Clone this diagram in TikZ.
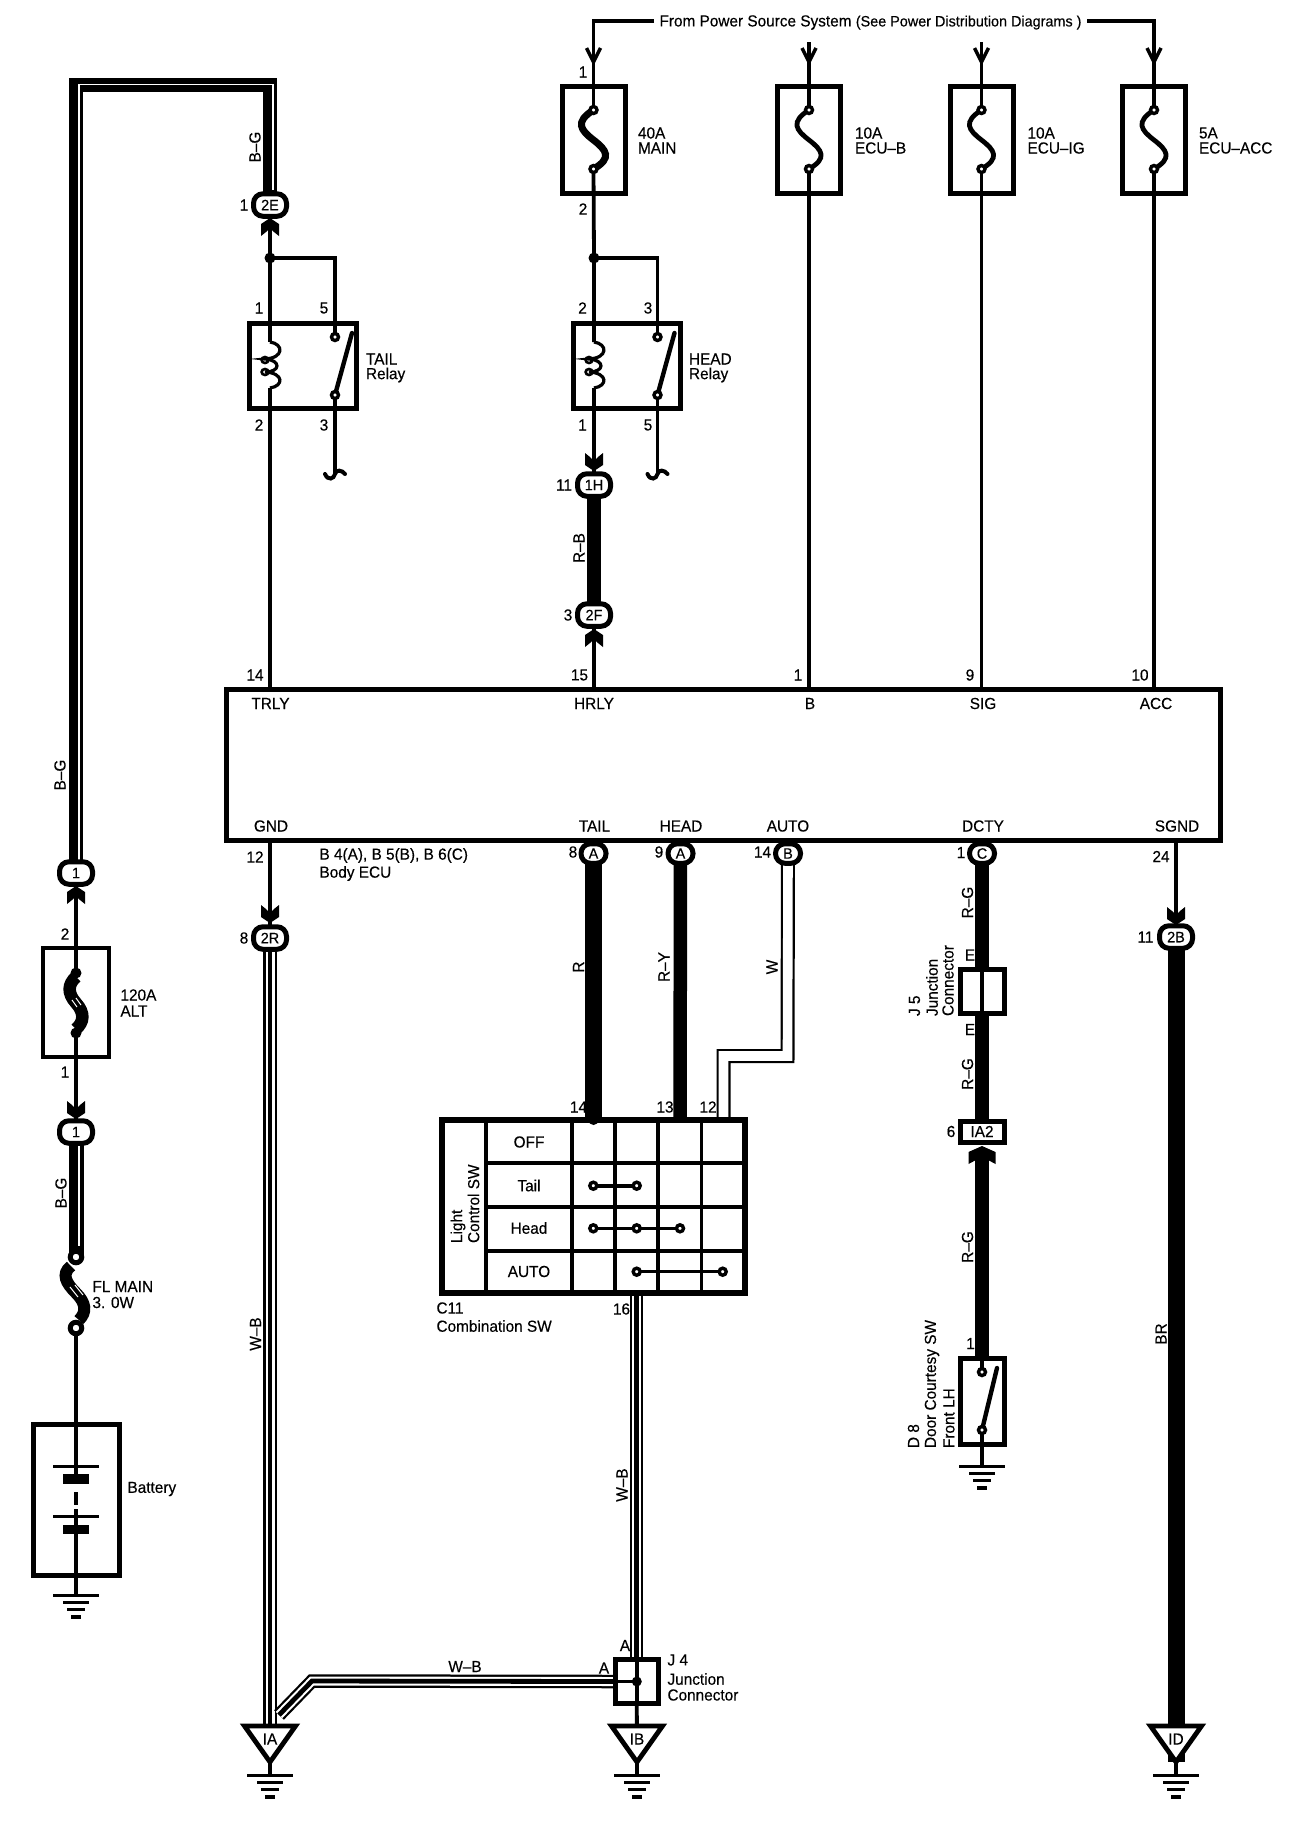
\documentclass[tikz,border=0pt]{standalone}
\usepackage{fontspec}
\setmainfont[FakeStretch=0.96,FakeBold=0.3]{Liberation Sans}
\usetikzlibrary{shapes.geometric,backgrounds,calc}
\tikzset{
  lab/.style={inner sep=0pt,outer sep=0pt,font=\fontsize{16}{18}\selectfont},
  boxn/.style={draw,line width=5,inner sep=0pt,outer sep=0pt},
  thinbox/.style={draw,line width=4,inner sep=0pt,outer sep=0pt},
  term/.style={circle,draw,fill=white,line width=3.4,minimum size=7,inner sep=0pt,outer sep=0pt},
  conn/.style={rectangle,rounded corners=9.5pt,draw,fill=white,line width=5,inner sep=0pt,outer sep=0pt,minimum width=33,minimum height=22.5,font=\fontsize{15}{15}\selectfont},
  connr/.style={conn,minimum width=25,minimum height=19.5},
  wire/.style={line width=3.8},
  grid/.style={line width=3.6},
}
\newcommand\lbl[4][]{\node[lab,#1] (#2) at (#3) {#4};}
\newcommand\chev[4]{\fill[shift={(#1,#2)},yscale=#3,xscale=#4] (-9,18)--(-9,6)--(0,0)--(9,6)--(9,18)--(4,14)--(0,10)--(-4,14)--cycle;}
\newcommand\barb[1]{\draw[line width=3.4] (#1-7,48)--(#1,62)--(#1+7,48);}
\newcommand\mygnd[2]{%
  \draw[line width=3] (#1-23,#2)--(#1+23,#2);
  \draw[line width=3.2] (#1-13,#2+7.5)--(#1+13,#2+7.5);
  \draw[line width=3.2] (#1-9,#2+14.5)--(#1+9,#2+14.5);
  \draw[line width=3.2] (#1-5,#2+22)--(#1+5,#2+22);}
\newcommand\stripe[1]{%
  \draw[line width=13.5] #1; \draw[white,line width=9] #1; \draw[line width=4.8] #1;}
\newcommand\fusebox[3]{% name, x, fuse line width
  \node[boxn,minimum width=63,minimum height=107] (#1) at (#2,140) {};
  \begin{scope}[on background layer]
  \draw[line width=#3,line cap=round] (#2,110) .. controls (#2-19,122) and (#2-13,130) .. (#2,140)
     .. controls (#2+13,150) and (#2+19,158) .. (#2,169);
  \end{scope}
  \node[term] (#1t) at (#2,110) {};
  \node[term] (#1b) at (#2,169) {};
}
\newcommand\relay[3]{% name, coil x, contact x
  \node[boxn,minimum width=107,minimum height=85] (#1) at (#2+33,366) {};
  \coordinate (#1c) at (#2,342);
  \coordinate (#1d) at (#2,388);
  \draw[line width=3.2] (#1c) .. controls (#2+14,344) and (#2+14,358) .. (#2-5,359)
     .. controls (#2+11,360) and (#2+11,372) .. (#2-5,372)
     .. controls (#2+14,373) and (#2+14,386) .. (#1d);
  \draw[line width=2.6] (#2-5,360) ellipse (3.4 and 3);
  \draw[line width=2.6] (#2-5,372) ellipse (3.4 and 3);
  \draw[line width=4.4,line cap=round] (#3,395)--(#3+17,333);
  \node[term] (#1a) at (#3,337) {};
  \node[term] (#1z) at (#3,395) {};
  \coordinate (#1q) at (#3,474);
  \draw[line width=4,line cap=round] (#3-10,474) .. controls (#3-7,481) and (#3-1,479) .. (#1q)
     .. controls (#3+1,469) and (#3+7,470) .. (#3+10,474);
  \begin{scope}[on background layer]
    \draw[wire] (#1z)--(#1q);
  \end{scope}
}
\newcommand\gtri[3]{% name, x, text
  \draw[line width=4.8,fill=white] (#2-25.5,1726)--(#2+25.5,1726)--(#2,1762)--cycle;
  \node[lab] (#1) at (#2,1739) {#3};
  \coordinate (#1tip) at (#2,1762);
  \coordinate (#1gnd) at (#2,1775);
  \mygnd{#2}{1775}
  \draw[wire] (#1tip)--(#1gnd);
}
\begin{document}
\begin{tikzpicture}[x=1pt,y=-1pt]
\useasboundingbox (0,0) rectangle (1312,1826);

% ---------- top fuses ----------
\fusebox{fa}{593.5}{7}
\fusebox{fb}{809}{4.8}
\fusebox{fc}{981.5}{4.8}
\fusebox{fd}{1154}{4.8}
\lbl{pw}{870.5,22.5}{From Power Source System {\fontsize{15}{16}\selectfont (See Power Distribution Diagrams )}}
\coordinate (ib) at (809,42);
\coordinate (ic) at (981.5,42);
\coordinate (pl) at (654,21);
\coordinate (pr) at (1087,21);
\coordinate (la) at (593.5,21);
\coordinate (ld) at (1154,21);
\begin{scope}[on background layer]
  \draw[wire] (pl)--(la)--(fat);
  \draw[wire] (pr)--(ld)--(fdt);
  \draw[wire] (ib)--(fbt);
  \draw[wire] (ic)--(fct);
\end{scope}
\barb{593.5}\barb{809}\barb{981.5}\barb{1154}
\lbl{n1}{583,72}{1}
\lbl{n2}{583,209}{2}
\lbl[anchor=west]{fa1}{638,133}{40A}\lbl[anchor=west]{fa2}{638,148}{MAIN}
\lbl[anchor=west]{fb1}{855,133}{10A}\lbl[anchor=west]{fb2}{855,148}{ECU--B}
\lbl[anchor=west]{fc1}{1027.5,133}{10A}\lbl[anchor=west]{fc2}{1027.5,148}{ECU--IG}
\lbl[anchor=west]{fd1}{1199,133}{5A}\lbl[anchor=west]{fd2}{1199,148}{ECU--ACC}

% ---------- relays ----------
\relay{rt}{270}{335}
\relay{rh}{594}{657.5}
\lbl[anchor=west]{rt1}{366,359}{TAIL}\lbl[anchor=west]{rt2}{366,375}{Relay}
\lbl[anchor=west]{rh1}{689,359}{HEAD}\lbl[anchor=west]{rh2}{689,375}{Relay}
\lbl{p1}{259,308}{1}\lbl{p2}{324,308}{5}\lbl{p3}{259,425}{2}\lbl{p4}{324,425}{3}
\lbl{p5}{582.5,308}{2}\lbl{p6}{648,308}{3}\lbl{p7}{582.5,425}{1}\lbl{p8}{648,425}{5}

% ---------- ECU ----------
\node[boxn,minimum width=994,minimum height=151] (ecu) at (723.5,764.5) {};
\lbl{e1}{270.5,703.5}{TRLY}\lbl{e2}{594,703.5}{HRLY}\lbl{e3}{810,703.5}{B}\lbl{e4}{983,703.5}{SIG}\lbl{e5}{1156,703.5}{ACC}
\lbl{e6}{271,826}{GND}\lbl{e7}{594.5,826}{TAIL}\lbl{e8}{681,826}{HEAD}\lbl{e9}{788,826}{AUTO}\lbl{e10}{983,826}{DCTY}\lbl{e11}{1177,826}{SGND}
\lbl{q1}{255,675}{14}\lbl{q2}{579.5,675}{15}\lbl{q3}{798,675}{1}\lbl{q4}{970,675}{9}\lbl{q5}{1140,675}{10}
\lbl{q6}{255,857}{12}\lbl{q7}{1161,856.5}{24}
\lbl[anchor=west]{bd1}{319.5,855.5}{B 4(A), B 5(B), B 6(C)}
\lbl[anchor=west]{bd2}{319.5,873.5}{Body ECU}

% ---------- connectors ----------
\node[conn] (c2E) at (270,205) {2E};
\node[conn] (c1H) at (594,485) {1H};
\node[conn] (c2F) at (594,615) {2F};
\node[conn] (c2R) at (270,938) {2R};
\node[conn] (c2B) at (1176,937) {2B};
\node[conn] (c1a) at (76,873) {1};
\node[conn] (c1b) at (76,1132) {1};
\node[connr] (cA1) at (593.5,853.5) {A};
\node[connr] (cA2) at (680.5,853.5) {A};
\node[connr] (cB) at (788,853.5) {B};
\node[connr] (cC) at (982,853.5) {C};
\chev{270}{218}{1}{1}
\chev{594}{471}{-1}{1}
\chev{594}{629}{1}{1}
\chev{270}{923}{-1}{1}
\chev{1176}{925}{-1}{1}
\chev{76}{886}{1}{1}
\chev{76}{1119}{-1}{1}
\lbl{k1}{244,205}{1}\lbl{k2}{564,485}{11}\lbl{k3}{568,615}{3}\lbl{k4}{244,938}{8}\lbl{k5}{1145.5,937}{11}
\lbl{k6}{573,852}{8}\lbl{k7}{659,852}{9}\lbl{k8}{762.5,852}{14}\lbl{k9}{961,852.5}{1}

% junction dots on relay feeds
\fill (270,258) circle[radius=5.5pt]; \coordinate (jt) at (270,258);
\fill (594,258) circle[radius=5.5pt]; \coordinate (jh) at (594,258);

% ---------- wires, upper part ----------
\begin{scope}[on background layer]
  \draw[wire] (c2E)--(jt)--(rtc);
  \draw[wire] (jt)-|(rta);
  \draw[wire] (rtd)--(rtd|-ecu.north);
  \draw[wire] (fab)--(jh)--(rhc);
  \draw[wire] (jh)-|(rha);
  \draw[wire] (rhd)--(c1H);
  \draw[line width=13.5] (c1H)--(c2F);
  \draw[wire] (c2F)--(c2F|-ecu.north);
  \draw[wire] (fbb)--(fbb|-ecu.north);
  \draw[wire] (fcb)--(fcb|-ecu.north);
  \draw[wire] (fdb)--(fdb|-ecu.north);
  \draw[wire] (270,840)--(c2R);
  \draw[wire] (1176,840)--(c2B);
  % long B-G wire
  \draw[line width=14] (c1a)--(76,85)--(270,85)--(c2E);
  \draw[white,line width=1.8] (79.3,860)--(79.3,84.5)--(272.8,84.5)--(272.8,190);
\end{scope}
\lbl[rotate=90]{w1}{255,147}{B--G}
\lbl[rotate=90]{w2}{579,548}{R--B}
\lbl[rotate=90]{w3}{60,775}{B--G}

% ---------- ALT fuse, fusible link, battery ----------
\node[thinbox,minimum width=66,minimum height=109] (alt) at (76,1002) {};
\lbl{a1}{65,934}{2}\lbl{a2}{65,1072}{1}
\lbl[anchor=west]{a3}{120.5,995}{120A}\lbl[anchor=west]{a4}{120.5,1011}{ALT}
\coordinate (altt) at (76,973);
\coordinate (altb) at (76,1033);
\draw[line width=12.5] (76,977) .. controls (68,984) and (67,993) .. (76,1003) .. controls (85,1013) and (84,1022) .. (76,1029);
\fill (76,973) circle[radius=5.5pt]; \fill (76,1033) circle[radius=5.5pt];
\draw[white,line width=1] (72,1000)--(77,1007); \draw[white,line width=1] (76,998)--(81,1005);
\coordinate (flt) at (76,1257);
\coordinate (flb) at (76,1328);
\draw[line width=12] (71,1266) .. controls (61,1274) and (66,1283) .. (76,1293) .. controls (86,1303) and (87,1312) .. (79,1320);
\draw[white,line width=1] (70,1287)--(78,1297); \draw[white,line width=1] (75,1285)--(83,1295);
\node[circle,draw,fill=white,line width=5,minimum size=11.5,inner sep=0pt] (flu) at (flt) {};
\node[circle,draw,fill=white,line width=5,minimum size=11.5,inner sep=0pt] (fll) at (flb) {};
\lbl[anchor=west]{a5}{92.5,1286.5}{FL MAIN}\lbl[anchor=west]{a6}{92.5,1302.5}{3. 0W}
\lbl[rotate=90]{a7}{61,1193}{B--G}
\node[boxn,minimum width=86,minimum height=151] (bat) at (76,1499.5) {};
\lbl[anchor=west]{a8}{127.5,1489}{Battery}
\draw[line width=3] (53,1466)--(99,1466);
\fill (63,1474) rectangle (89,1484);
\fill (74.3,1492) rectangle (77.7,1505);
\fill (74.3,1509) rectangle (77.7,1515);
\draw[line width=3] (53,1516)--(99,1516);
\fill (63,1524.5) rectangle (89,1534);
\coordinate (pl1) at (76,1466);
\coordinate (pl2) at (76,1474);
\coordinate (pl3) at (76,1516);
\coordinate (pl4) at (76,1525);
\coordinate (pl5) at (76,1534);
\coordinate (bg) at (76,1595);
\mygnd{76}{1595}
\begin{scope}[on background layer]
  \draw[wire] (c1a)--(altt);
  \draw[wire] (altb)--(c1b);
  \draw[line width=15] (c1b)--(flt);
  \draw[white,line width=1.8] (79.3,1145)--(79.3,1246);
  \draw[wire] (flb)--(pl1);
  \draw[wire] (pl1)--(pl2);
  \draw[wire] (pl3)--(pl4);
  \draw[wire] (pl5)--(bg);
\end{scope}

% ---------- combination switch ----------
\node[draw,line width=5.4,inner sep=0pt,outer sep=0pt,minimum width=303,minimum height=173] (sw) at (593.5,1206.5) {};
\draw[grid] (485.7,1120)--(485.7,1293);
\draw[grid] (572,1120)--(572,1293);
\draw[grid] (615,1120)--(615,1293);
\draw[grid] (657.7,1120)--(657.7,1293);
\draw[grid] (701.3,1120)--(701.3,1293);
\draw[line width=3.8] (485.7,1163.3)--(745,1163.3);
\draw[grid] (485.7,1207)--(745,1207);
\draw[grid] (485.7,1251)--(745,1251);
\lbl{s1}{529,1142}{OFF}\lbl{s2}{529,1185.5}{Tail}\lbl{s3}{529,1228}{Head}\lbl{s4}{529,1271.5}{AUTO}
\lbl[rotate=90,anchor=west]{s5}{458,1243}{Light}
\lbl[rotate=90,anchor=west]{s6}{473.5,1243}{Control SW}
\node[term] (d1) at (593.3,1185.7) {};
\node[term] (d2) at (636.7,1185.7) {};
\node[term] (d3) at (593.3,1228.3) {};
\node[term] (d4) at (636.7,1228.3) {};
\node[term] (d5) at (680,1228.3) {};
\node[term] (d6) at (636.7,1271.7) {};
\node[term] (d7) at (722.7,1271.7) {};
\draw[line width=3.6] (d1)--(d2);
\draw[line width=3.6] (d3)--(d4);
\draw[line width=3.6] (d4)--(d5);
\draw[line width=2.6] (d6)--(d7);
\lbl{s7}{578.5,1107}{14}\lbl{s8}{665,1107}{13}\lbl{s9}{708,1107}{12}
\lbl{s10}{621.5,1309}{16}
\lbl[anchor=west]{s11}{436.5,1308}{C11}
\lbl[anchor=west]{s12}{436.5,1326}{Combination SW}

% ---------- J4 and grounds ----------
\node[boxn,minimum width=43,minimum height=44] (j4) at (636.5,1681) {};
\coordinate (j4d) at (636.8,1681.5);
\fill (j4d) circle[radius=5pt];
\draw[wire] (j4.north-|j4d)--(j4.south-|j4d);
\draw[wire] (j4.west|-j4d)--(j4d);
\lbl{j1}{625,1645.5}{A}\lbl{j2}{604,1668}{A}
\lbl[anchor=west]{j3}{667.5,1660}{J 4}\lbl[anchor=west]{j4a}{667.5,1679}{Junction}\lbl[anchor=west]{j5a}{667.5,1695}{Connector}
\lbl{j6}{465,1666.5}{W--B}
\gtri{gIA}{270}{IA}
\gtri{gIB}{637}{IB}
\gtri{gID}{1176}{ID}
\coordinate (dg) at (312,1681);
\coordinate (de) at (279,1715);
\begin{scope}[on background layer]
  \stripe{(c2R)--(gIAtip|-gIA.north)}
  \stripe{(j4.west|-j4d)--(dg)--(de)}
  \stripe{(636.7,1293)--(j4.north-|636.7,0)}
  \draw[wire] (j4.south-|j4d)--(gIBtip);
  \draw[line width=17] (c2B)--(gIDtip);
\end{scope}
\lbl[rotate=90]{w4}{255.5,1334}{W--B}
\lbl[rotate=90]{w5}{622,1485}{W--B}
\lbl[rotate=90]{w6}{1161,1334}{BR}

% ---------- harness to the switch ----------
\coordinate (sa) at (593.5,1120);
\coordinate (sb) at (680,1120);
\coordinate (sc) at (723.5,1120);
\coordinate (wk1) at (787.5,1056);
\coordinate (wk2) at (723.5,1056);
\begin{scope}[on background layer]
  \draw[line width=17] (cA1)--(sa);
  \fill (593.5,1120) circle[radius=5pt];
  \draw[line width=13.5] (cA2)--(sb);
  \draw[line width=14] (cB)--(wk1)--(wk2)--(sc);
  \draw[white,line width=9.6] (cB)--(wk1)--(wk2)--(sc);
\end{scope}
\lbl[rotate=90]{w7}{578.5,967}{R}
\lbl[rotate=90]{w8}{664,967}{R--Y}
\lbl[rotate=90]{w9}{772,967}{W}

% ---------- door circuit ----------
\node[boxn,minimum width=44,minimum height=44] (j5) at (982,991) {};
\draw[wire] (j5.north)--(j5.south);
\node[boxn,minimum width=44,minimum height=21] (ia2) at (982,1131.5) {};
\lbl{i1}{982,1131.5}{IA2}
\lbl{i2}{951,1131.5}{6}
\chev{982}{1146}{1}{1.5}
\node[boxn,minimum width=44,minimum height=86] (d8) at (982,1401) {};
\draw[line width=4.4,line cap=round] (982,1430)--(997,1368);
\node[term] (d8a) at (982,1372) {};
\node[term] (d8b) at (982,1430) {};
\coordinate (dgg) at (982,1466);
\mygnd{982}{1466}
\begin{scope}[on background layer]
  \draw[line width=14] (cC)--(j5.north);
  \draw[line width=14] (j5.south)--(ia2.north);
  \draw[line width=14] (982,1155)--(d8.north);
  \draw[wire] (d8.north)--(d8a);
  \draw[wire] (d8b)--(dgg);
\end{scope}
\lbl{i3}{970,955}{E}\lbl{i4}{970,1029.5}{E}
\lbl{i5}{970.5,1343.5}{1}
\lbl[rotate=90]{i6}{967.5,902.5}{R--G}
\lbl[rotate=90]{i7}{967.5,1074}{R--G}
\lbl[rotate=90]{i8}{967.5,1247}{R--G}
\lbl[rotate=90,anchor=west]{i9}{914.5,1016}{J 5}
\lbl[rotate=90,anchor=west]{i10}{932,1016}{Junction}
\lbl[rotate=90,anchor=west]{i11}{948,1016}{Connector}
\lbl[rotate=90,anchor=west]{i12}{913.5,1448}{D 8}
\lbl[rotate=90,anchor=west]{i13}{932,1448}{Door Courtesy SW}
\lbl[rotate=90,anchor=west]{i14}{949,1448}{Front LH}
\end{tikzpicture}
\end{document}
